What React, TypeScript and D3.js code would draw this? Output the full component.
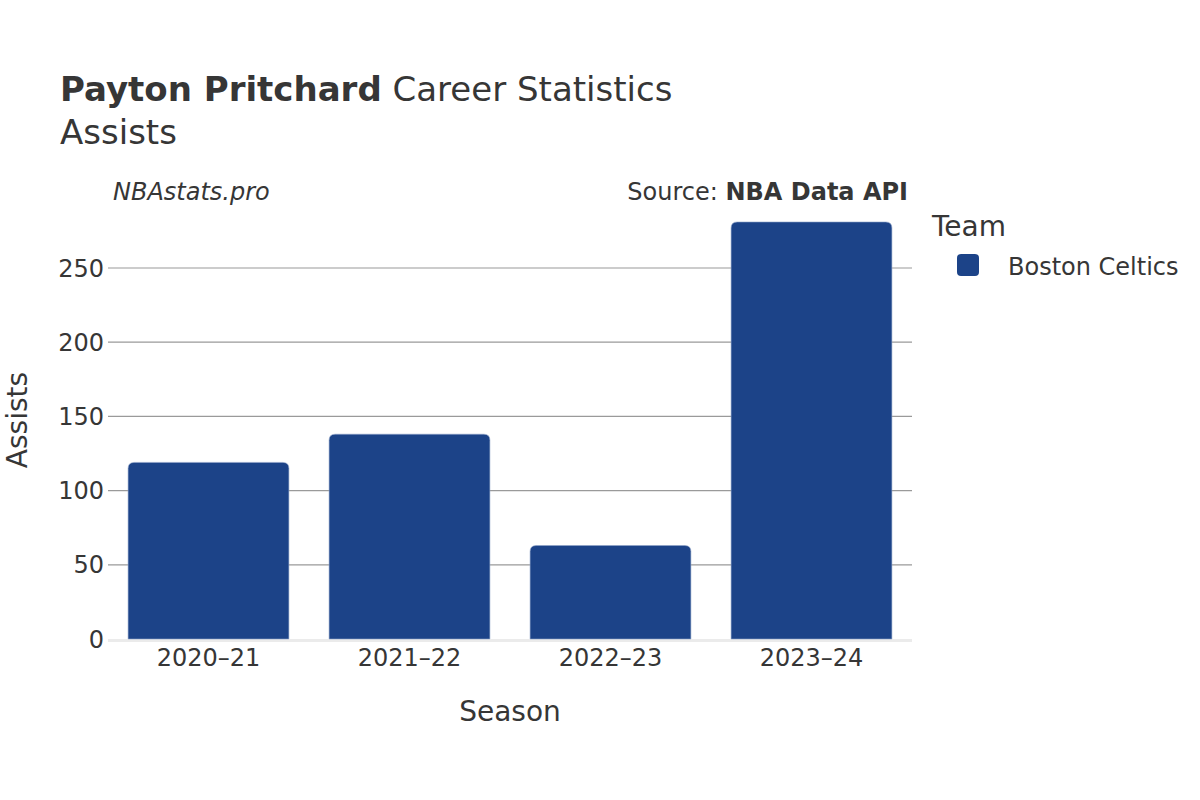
import React from "react";
import * as d3 from "d3";

const seasons = ["2020–21", "2021–22", "2022–23", "2023–24"];
const assists = [119, 138, 63, 281];
const yTicks = [0, 50, 100, 150, 200, 250];
const teamName = "Boston Celtics";

const W = 1200;
const H = 800;
const FONT = "DejaVu Sans, Verdana, sans-serif";
const TEXT = "#363636";
const BAR = "#1c4388";

export default function App() {
  const x = d3.scaleBand<string>().domain(seasons).range([108, 912]).paddingInner(0.2).paddingOuter(0.1);
  const y = d3.scaleLinear().domain([0, 250]).range([639, 268]);
  const r = 6;
  const barPath = (xs: number, yt: number, w: number, yb: number) =>
    `M${xs},${yb}L${xs},${yt + r}Q${xs},${yt} ${xs + r},${yt}L${xs + w - r},${yt}Q${xs + w},${yt} ${xs + w},${yt + r}L${xs + w},${yb}Z`;

  return (
    <svg width={W} height={H} style={{ display: "block", position: "absolute", left: 0, top: 0, background: "#fff" }} fontFamily={FONT}>
      <text x={60} y={101} fontSize={34} fill={TEXT}>
        <tspan fontWeight="bold">Payton Pritchard</tspan>
        <tspan> Career Statistics</tspan>
      </text>
      <text x={60} y={144} fontSize={34} fill={TEXT}>Assists</text>
      <text x={113} y={200} fontSize={24} fontStyle="italic" fill={TEXT}>NBAstats.pro</text>
      <text x={908} y={200} fontSize={24} textAnchor="end" fill={TEXT}>
        <tspan>Source: </tspan>
        <tspan fontWeight="bold">NBA Data API</tspan>
      </text>

      {yTicks.filter((t) => t > 0).map((t) => (
        <line key={t} x1={108} x2={912} y1={y(t)} y2={y(t)} stroke="#9a9a9a" strokeWidth={1.2} />
      ))}
      <line x1={108} x2={912} y1={y(0) + 1.5} y2={y(0) + 1.5} stroke="#ebebeb" strokeWidth={3} />

      {seasons.map((s, i) => {
        const xs = x(s)!;
        return (
          <path key={s} d={barPath(xs, y(assists[i]), x.bandwidth(), y(0))} fill={BAR} stroke="#8fa3c8" strokeWidth={0.6} />
        );
      })}

      {yTicks.map((t) => (
        <text key={t} x={104} y={y(t) + 8.5} fontSize={24} textAnchor="end" fill={TEXT}>{t}</text>
      ))}
      {seasons.map((s) => (
        <text key={s} x={x(s)! + x.bandwidth() / 2} y={666} fontSize={24} textAnchor="middle" fill={TEXT}>{s}</text>
      ))}

      <text x={510} y={721} fontSize={28} textAnchor="middle" fill={TEXT}>Season</text>
      <text transform="translate(27,420) rotate(-90)" fontSize={28} textAnchor="middle" fill={TEXT}>Assists</text>

      <text x={932} y={236} fontSize={28} fill={TEXT}>Team</text>
      <rect x={957} y={254} width={22} height={22} rx={4} fill={BAR} />
      <text x={1008} y={275} fontSize={24} fill={TEXT}>{teamName}</text>
    </svg>
  );
}
